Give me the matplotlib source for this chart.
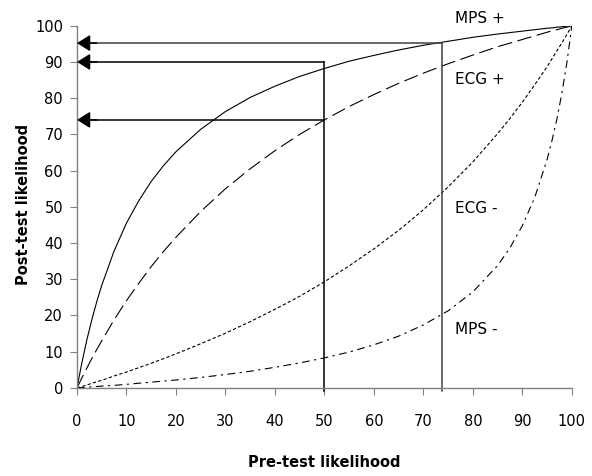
import matplotlib
matplotlib.use("Agg")
import matplotlib.pyplot as plt

# pre-test likelihood (%) and post-test likelihood (%) for each test result
pretest = [0, 1, 2, 3, 4, 5, 7.5, 10, 12.5, 15, 17.5, 20, 25, 30, 35, 40, 45, 50,
           55, 60, 65, 70, 75, 80, 85, 87.5, 90, 92.5, 95, 96, 97, 98, 99, 100]
mps_pos = [0, 7.0, 13.3, 18.8, 23.8, 28.3, 37.8, 45.5, 51.7, 57.0, 61.4, 65.2,
           71.4, 76.3, 80.2, 83.3, 86.0, 88.2, 90.2, 91.8, 93.3, 94.6, 95.7,
           96.8, 97.7, 98.1, 98.5, 98.9, 99.3, 99.4, 99.6, 99.7, 99.9, 100]
ecg_pos = [0, 2.8, 5.5, 8.1, 10.6, 13.0, 18.8, 24.1, 28.9, 33.5, 37.7, 41.6,
           48.7, 55.0, 60.5, 65.5, 70.0, 74.0, 77.7, 81.0, 84.1, 86.9, 89.5,
           91.9, 94.2, 95.2, 96.2, 97.2, 98.2, 98.6, 98.9, 99.3, 99.6, 100]
ecg_neg = [0, 0.4, 0.8, 1.3, 1.7, 2.1, 3.3, 4.4, 5.6, 6.8, 8.1, 9.4,
           12.2, 15.1, 18.3, 21.7, 25.3, 29.3, 33.7, 38.4, 43.5, 49.2, 55.5,
           62.4, 70.2, 74.4, 78.9, 83.7, 88.7, 90.9, 93.1, 95.3, 97.6, 100]
mps_neg = [0, 0.1, 0.2, 0.3, 0.4, 0.5, 0.7, 1.0, 1.3, 1.6, 1.9, 2.2,
           2.9, 3.7, 4.6, 5.7, 6.9, 8.3, 9.9, 11.9, 14.3, 17.4, 21.3,
           26.5, 33.8, 38.7, 44.8, 52.6, 63.1, 68.4, 74.4, 81.5, 89.9, 100]

# worked examples: pre-test value -> post-test values read back to the y axis
example_pre = [50, 73.7]
example_post = [[90, 74], [95.2]]

curve_labels = ["MPS +", "ECG +", "ECG -", "MPS -"]
label_pos = [(76.4, 102), (76.4, 85.2), (76.4, 49.6), (76.4, 16)]

plt.rcParams["font.family"] = ["DejaVu Sans"]

fig = plt.figure(figsize=(5.92, 4.76), dpi=100)
ax = fig.add_axes([0.130, 0.185, 0.836, 0.761])

lw = 0.8
ax.plot(pretest, mps_pos, color="black", lw=lw, linestyle="-")
ax.plot(pretest, ecg_pos, color="black", lw=lw, linestyle=(0, (13, 5)))
ax.plot(pretest, ecg_neg, color="black", lw=lw, linestyle=(0, (3, 2)))
ax.plot(pretest, mps_neg, color="black", lw=lw, linestyle=(0, (7, 4, 2, 4)))

# vertical lines up from the pre-test value, arrows back to the y axis
line_colors = ["black", "#404040"]
for pre, posts, col in zip(example_pre, example_post, line_colors):
    ax.plot([pre, pre], [-0.8, max(posts)], color=col, lw=1.1, clip_on=False)
    for post in posts:
        ax.plot([0, pre], [post, post], color=col, lw=1.1)
        ax.annotate("", xy=(0, post), xytext=(4, post),
                    arrowprops=dict(arrowstyle="-|>,head_length=0.8,head_width=0.5",
                                    color="black", lw=1.1,
                                    shrinkA=0, shrinkB=0))

for text, (x, y) in zip(curve_labels, label_pos):
    ax.text(x, y, text, fontsize=11, ha="left", va="center", clip_on=False)

ax.set_xlim(0, 100)
ax.set_ylim(0, 100)
ax.set_xticks(range(0, 101, 10))
ax.set_yticks(range(0, 101, 10))
for side in ["top", "right"]:
    ax.spines[side].set_visible(False)
for side in ["left", "bottom"]:
    ax.spines[side].set_color("#808080")
    ax.spines[side].set_linewidth(1.0)
ax.tick_params(axis="x", direction="out", length=5, color="#808080",
               labelsize=10.5, pad=14)
ax.tick_params(axis="y", direction="out", length=5, color="#808080",
               labelsize=10.5, pad=5)

fig.text(0.547, 0.028, "Pre-test likelihood", ha="center", va="center",
         fontsize=10.5, fontweight="bold")
fig.text(0.040, 0.57, "Post-test likelihood", ha="center", va="center",
         rotation=90, fontsize=10.5, fontweight="bold")

fig.savefig("out.png", dpi=100)
